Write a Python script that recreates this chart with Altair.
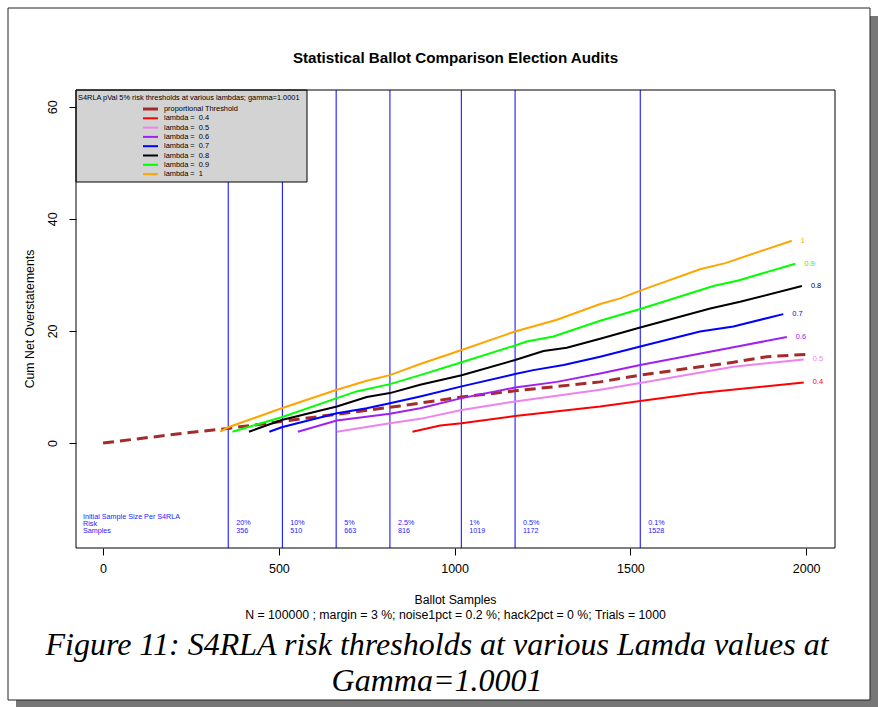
import altair as alt
import pandas as pd

# ---- data -----------------------------------------------------------------
lambdas = ["0.4", "0.5", "0.6", "0.7", "0.8", "0.9", "1"]
line_colors = ["#FF0000", "#EE82EE", "#A020F0", "#0000FF", "#000000", "#00FF00", "#FFA500"]

x_04 = [880, 959, 1020, 1172, 1414, 1528, 1698, 1993]
y_04 = [2.0, 3.1, 3.5, 4.8, 6.5, 7.5, 8.9, 10.8]
x_05 = [665, 816, 902, 1020, 1172, 1414, 1528, 1793, 1993]
y_05 = [2.0, 3.5, 4.3, 5.9, 7.4, 9.5, 10.7, 13.6, 14.9]
x_06 = [554, 665, 816, 902, 1020, 1172, 1291, 1414, 1528, 1793, 1945]
y_06 = [2.0, 4.0, 5.2, 6.2, 8.0, 9.9, 10.9, 12.4, 13.9, 17.1, 18.9]
x_07 = [473, 508, 665, 750, 816, 902, 1020, 1172, 1224, 1310, 1414, 1528, 1698, 1793, 1935]
y_07 = [2.0, 2.8, 5.3, 6.2, 7.1, 8.3, 10.1, 12.3, 13.0, 13.9, 15.4, 17.2, 19.9, 20.8, 23.0]
x_08 = [415, 508, 665, 750, 816, 902, 1020, 1172, 1253, 1319, 1414, 1528, 1727, 1812, 1988]
y_08 = [2.0, 4.1, 6.5, 8.2, 8.9, 10.4, 12.1, 14.8, 16.4, 17.0, 18.6, 20.6, 24.0, 25.2, 28.0]
x_09 = [368, 508, 665, 721, 816, 902, 1020, 1172, 1205, 1281, 1414, 1528, 1736, 1807, 1969]
y_09 = [2.0, 4.6, 8.0, 9.2, 10.5, 12.1, 14.4, 17.4, 18.1, 19.0, 21.8, 23.9, 28.0, 29.0, 32.0]
x_10 = [333, 356, 508, 665, 750, 816, 902, 1020, 1172, 1291, 1414, 1471, 1528, 1698, 1770, 1959]
y_10 = [2.0, 2.8, 6.2, 9.5, 11.1, 12.1, 14.1, 16.6, 19.9, 22.0, 24.8, 25.8, 27.2, 31.0, 32.1, 36.1]

# proportional threshold
x_prop = [0, 266, 356, 845, 1020, 1172, 1414, 1528, 1698, 1793, 1888, 2000]
y_prop = [0.0, 2.0, 2.6, 6.6, 8.2, 9.3, 10.9, 12.1, 13.6, 14.4, 15.4, 15.8]

# initial sample size per risk level
risk_levels = ["20%", "10%", "5%", "2.5%", "1%", "0.5%", "0.1%"]
risk_samples = [356, 510, 663, 816, 1019, 1172, 1528]

x_ticks = [0, 500, 1000, 1500, 2000]
y_ticks = [0, 20, 40, 60]

title_text = "Statistical Ballot Comparison Election Audits"
x_title = "Ballot Samples"
x_sub = "N = 100000 ; margin = 3 %; noise1pct = 0.2 %; hack2pct = 0 %; Trials = 1000"
y_title = "Cum Net Overstatements"
legend_title = "S4RLA pVal 5% risk thresholds at various lambdas; gamma=1.0001"
prop_name = "proportional Threshold"
caption_1 = "Figure 11: S4RLA risk thresholds at various Lamda values at"
caption_2 = "Gamma=1.0001"
risk_head = ["Initial Sample Size Per S4RLA", "Risk", "Samples"]

# ---- tables ---------------------------------------------------------------
series_x = [x_04, x_05, x_06, x_07, x_08, x_09, x_10]
series_y = [y_04, y_05, y_06, y_07, y_08, y_09, y_10]
# non-breaking space keeps the double gap after "=" in SVG text
names = [f"lambda = \u00a0{l}" for l in lambdas]

rows = []
for name, xs, ys in zip(names, series_x, series_y):
    for xv, yv in zip(xs, ys):
        rows.append({"series": name, "x": xv, "y": yv})
lines_df = pd.DataFrame(rows)
ends_df = pd.DataFrame({
    "series": names,
    "label": lambdas,
    "x": [xs[-1] for xs in series_x],
    "y": [ys[-1] for ys in series_y],
})
prop_df = pd.DataFrame({"x": x_prop, "y": y_prop})
risk_df = pd.DataFrame({"x": risk_samples, "risk": risk_levels,
                        "n": [str(s) for s in risk_samples]})
legend_df = pd.DataFrame({"series": [prop_name] + names,
                          "idx": list(range(len(names) + 1))})
one = pd.DataFrame({"k": [0]})

W, H = 759, 458
FONT = "Liberation Sans"
SMALL = 7.2
xscale = alt.Scale(domain=[-77, 2082], nice=False, zero=False)
yscale = alt.Scale(domain=[-18.75, 63.0], nice=False, zero=False)
color = alt.Color("series:N", legend=None,
                  scale=alt.Scale(domain=[prop_name] + names,
                                  range=["#A52A2A"] + line_colors))

# ---- page frame with drop shadow ------------------------------------------
shadow = alt.Chart(one).mark_rect(fill="#777777").encode(
    x=alt.value(-60), x2=alt.value(802), y=alt.value(-74), y2=alt.value(617))
page = alt.Chart(one).mark_rect(fill="white", stroke="#222222", strokeWidth=1).encode(
    x=alt.value(-68), x2=alt.value(794), y=alt.value(-82), y2=alt.value(610))

# ---- axes carrier (invisible points) ---------------------------------------
axes = alt.Chart(prop_df).mark_point(opacity=0).encode(
    x=alt.X("x:Q", scale=xscale,
            axis=alt.Axis(values=x_ticks, format="d", title=None, domain=False,
                          grid=False, tickSize=7, labelPadding=7, labelFontSize=12.5,
                          labelFont=FONT, tickColor="black", labelColor="black",
                          zindex=2)),
    y=alt.Y("y:Q", scale=yscale,
            axis=alt.Axis(values=y_ticks, format="d", title=None, domain=False,
                          grid=False, tickSize=7, labelPadding=10, labelFontSize=12.5,
                          labelFont=FONT, labelAngle=270, labelAlign="center",
                          labelBaseline="bottom", tickColor="black",
                          labelColor="black", zindex=2)),
)

# ---- vertical risk thresholds ----------------------------------------------
vrules = alt.Chart(risk_df).mark_rule(color="#0000FF", strokeWidth=1).encode(
    x=alt.X("x:Q", scale=xscale))
risk_txt = alt.Chart(risk_df).mark_text(
    align="left", baseline="middle", dx=8, fontSize=SMALL, font=FONT, color="#2222FF"
).encode(x=alt.X("x:Q", scale=xscale), y=alt.value(433.3), text="risk:N")
n_txt = alt.Chart(risk_df).mark_text(
    align="left", baseline="middle", dx=8, fontSize=SMALL, font=FONT, color="#2222FF"
).encode(x=alt.X("x:Q", scale=xscale), y=alt.value(441), text="n:N")
head_layers = []
for txt, yy in zip(risk_head, [427.3, 434.3, 441]):
    head_layers.append(
        alt.Chart(one).mark_text(align="left", baseline="middle", fontSize=SMALL,
                                 font=FONT, color="#2222FF", text=txt)
        .encode(x=alt.value(7), y=alt.value(yy)))

# ---- threshold curves -------------------------------------------------------
prop_line = alt.Chart(prop_df).mark_line(
    color="#A52A2A", strokeWidth=3, strokeDash=[11, 6]
).encode(x=alt.X("x:Q", scale=xscale), y=alt.Y("y:Q", scale=yscale))
lam_lines = alt.Chart(lines_df).mark_line(strokeWidth=2).encode(
    x=alt.X("x:Q", scale=xscale), y=alt.Y("y:Q", scale=yscale),
    color=color, detail="series:N")
end_txt = alt.Chart(ends_df).mark_text(
    align="left", baseline="middle", dx=9, fontSize=7.4, font=FONT
).encode(x=alt.X("x:Q", scale=xscale), y=alt.Y("y:Q", scale=yscale),
         color=color, text="label:N")

# ---- legend box -------------------------------------------------------------
leg_box = alt.Chart(one).mark_rect(fill="#D3D3D3", stroke="black", strokeWidth=1).encode(
    x=alt.value(0), x2=alt.value(231), y=alt.value(0), y2=alt.value(92))
leg_title = alt.Chart(one).mark_text(
    align="left", baseline="middle", fontSize=7.4, font=FONT, color="black",
    text=legend_title).encode(x=alt.value(2), y=alt.value(7.7))
leg_base = alt.Chart(legend_df).transform_calculate(
    ly="19 + 9.3 * datum.idx",
    lw="datum.idx == 0 ? 3 : 2")
leg_lines = leg_base.mark_rule().encode(
    x=alt.value(67), x2=alt.value(82), y=alt.Y("ly:Q", scale=None),
    color=color, strokeWidth=alt.StrokeWidth("lw:Q", scale=None, legend=None))
leg_text = leg_base.mark_text(
    align="left", baseline="middle", fontSize=7.4, font=FONT, color="black"
).encode(x=alt.value(88), y=alt.Y("ly:Q", scale=None), text="series:N")

# ---- plot box ---------------------------------------------------------------
box = alt.Chart(one).mark_rect(fill="white", fillOpacity=0, stroke="black", strokeWidth=1).encode(
    x=alt.value(0), x2=alt.value(W), y=alt.value(0), y2=alt.value(H))

# ---- titles -----------------------------------------------------------------
def label(txt, x, y, size, **kw):
    return alt.Chart(one).mark_text(text=txt, fontSize=size, **kw).encode(
        x=alt.value(x), y=alt.value(y))

main_title = label(title_text, W / 2, -32, 15.2, font=FONT, fontWeight="bold",
                   baseline="middle", align="center", color="black")
xt = label(x_title, W / 2, 510, 12.3, font=FONT, baseline="middle", align="center", color="black")
xs_ = label(x_sub, W / 2, 525, 12.3, font=FONT, baseline="middle", align="center", color="black")
yt = label(y_title, -46, H / 2, 12.3, font=FONT, baseline="middle", align="center",
           angle=270, color="black")
cap1 = label(caption_1, 361, 565, 32, font="Liberation Serif", fontStyle="italic",
             baseline="alphabetic", align="center", color="black")
cap2 = label(caption_2, 361, 601, 32, font="Liberation Serif", fontStyle="italic",
             baseline="alphabetic", align="center", color="black")

chart = alt.layer(
    shadow, page, axes, vrules, risk_txt, n_txt, *head_layers,
    prop_line, lam_lines, end_txt,
    leg_box, leg_title, leg_lines, leg_text, box,
    main_title, xt, xs_, yt, cap1, cap2,
).properties(
    width=W, height=H,
    autosize=alt.AutoSizeParams(type="none"),
    padding={"left": 76, "top": 90, "right": 43, "bottom": 159},
    background="white",
).configure_view(stroke=None)

chart.save("out.html", embed_options={"renderer": "svg", "actions": False})
